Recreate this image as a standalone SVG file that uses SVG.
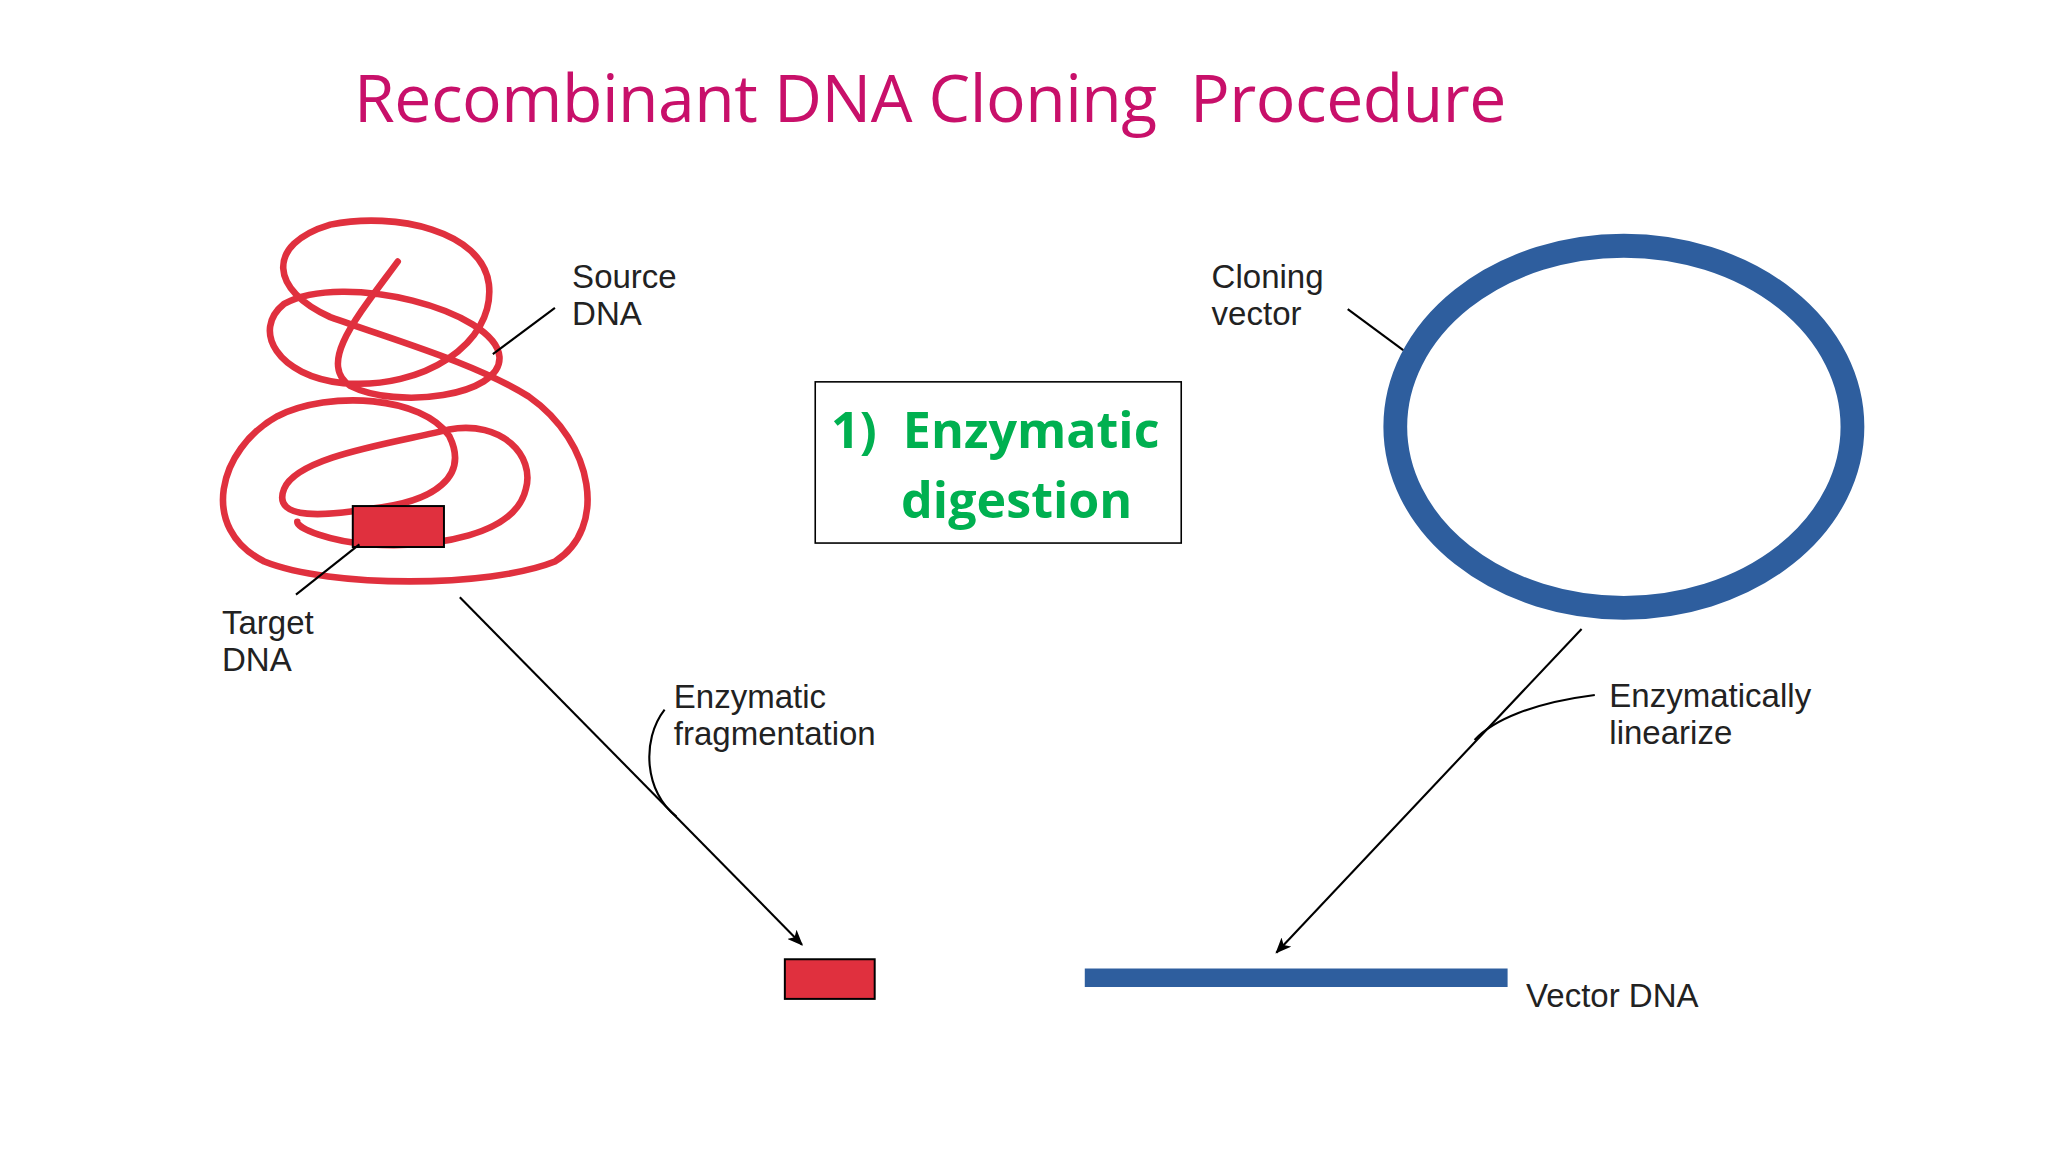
<svg xmlns="http://www.w3.org/2000/svg" width="2048" height="1152" viewBox="0 0 2048 1152">
<defs>
<marker id="ah" markerWidth="12" markerHeight="10" refX="11" refY="5" orient="auto" markerUnits="userSpaceOnUse"><path d="M0,0 L12,5 L0,10 L3,5 Z" fill="#000"/></marker>
<style>
.lbl{font-family:"Liberation Sans",Arial,sans-serif;font-size:25px;fill:#222}
.ln{stroke:#000;stroke-width:1.6;fill:none}
</style>
</defs>
<rect width="2048" height="1152" fill="#fff"/>
<g transform="scale(1.32129)">
<g id="title"><text x="268" y="92" font-family="Open Sans,sans-serif" font-size="50" fill="#C8106A" textLength="872" xml:space="preserve">Recombinant DNA Cloning  Procedure</text></g>
<g id="step"><rect x="617" y="289" width="277" height="122" fill="#fff" stroke="#000" stroke-width="1.2"/>
<text x="629" y="339" font-family="Open Sans,sans-serif" font-weight="bold" font-size="38" fill="#00B050" xml:space="preserve">1)  Enzymatic</text>
<text x="682" y="392" font-family="Open Sans,sans-serif" font-weight="bold" font-size="38" fill="#00B050">digestion</text></g>
<g id="source">
<path d="M301,198 C270,240 240,275 265,292 C300,310 380,300 378,270 C375,235 260,205 215,230 C190,250 210,285 260,290 C320,295 375,260 370,215 C365,175 300,160 250,170 C200,185 205,220 250,240 C300,258 360,275 400,300 C450,335 460,400 420,425 C370,445 250,445 200,425 C150,400 165,340 210,315 C250,295 320,300 340,330 C355,360 330,380 280,385 C250,390 205,395 215,370 C225,345 300,335 340,325 C380,318 405,345 398,370 C390,405 330,415 280,412 C250,410 225,400 225,395" fill="none" stroke="#E0303E" stroke-width="5" stroke-linecap="round"/>
<rect x="267" y="383" width="69" height="31" fill="#E0303E" stroke="#000" stroke-width="1.5"/>
<text class="lbl" x="433" y="218">Source</text><text class="lbl" x="433" y="246">DNA</text>
<line class="ln" x1="420" y1="233" x2="373" y2="268"/>
<text class="lbl" x="168" y="480">Target</text><text class="lbl" x="168" y="508">DNA</text>
<line class="ln" x1="224" y1="450" x2="272" y2="412"/>
</g>
<g id="vector">
<ellipse cx="1229" cy="323" rx="173" ry="137" fill="none" stroke="#2E5E9E" stroke-width="18"/>
<text class="lbl" x="917" y="218">Cloning</text><text class="lbl" x="917" y="246">vector</text>
<line class="ln" x1="1020" y1="234" x2="1062" y2="265"/>
</g>
<g id="fragment"><rect x="594" y="726" width="68" height="30" fill="#E0303E" stroke="#000" stroke-width="1.5"/></g>
<g id="vectorDNA"><rect x="821" y="733" width="320" height="14" fill="#2E5E9E"/>
<text class="lbl" x="1155" y="762">Vector DNA</text></g>
<g id="connectors">
<line class="ln" x1="348" y1="452" x2="607" y2="715" marker-end="url(#ah)"/>
<path class="ln" d="M503,537 C485,560 488,600 512,618"/>
<text class="lbl" x="510" y="536">Enzymatic</text><text class="lbl" x="510" y="564">fragmentation</text>
<line class="ln" x1="1197" y1="476" x2="966" y2="721" marker-end="url(#ah)"/>
<path class="ln" d="M1207,526 C1160,532 1130,545 1116,560"/>
<text class="lbl" x="1218" y="535">Enzymatically</text><text class="lbl" x="1218" y="563">linearize</text>
</g>
</g>
</svg>
